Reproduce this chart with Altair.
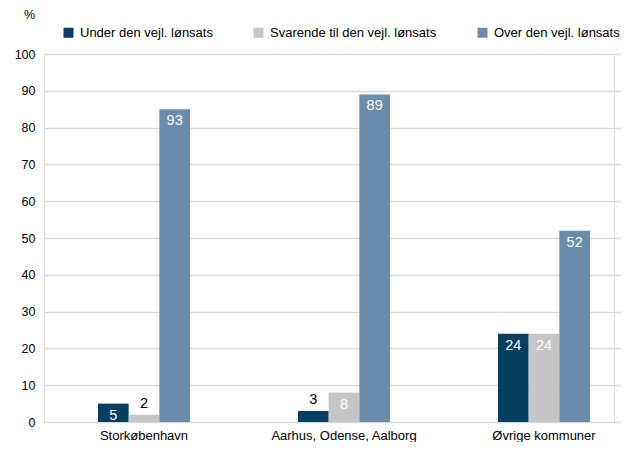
import altair as alt
import pandas as pd

categories = ["Storkøbenhavn", "Aarhus, Odense, Aalborg", "Øvrige kommuner"]
series = ["Under den vejl. lønsats", "Svarende til den vejl. lønsats", "Over den vejl. lønsats"]
colors = ["#063f5f", "#c6c6c6", "#6b8dab"]
# bar heights as drawn, and the value labels printed on them
under_vals = [5, 3, 24]
svarende_vals = [2, 8, 24]
over_vals = [85, 89, 52]
under_lbl = [5, 3, 24]
svarende_lbl = [2, 8, 24]
over_lbl = [93, 89, 52]
y_ticks = [0, 10, 20, 30, 40, 50, 60, 70, 80, 90, 100]

rows = []
for s, vals, lbls in zip(series, [under_vals, svarende_vals, over_vals], [under_lbl, svarende_lbl, over_lbl]):
    for c, v, l in zip(categories, vals, lbls):
        rows.append({"kategori": c, "serie": s, "værdi": v, "label": str(l),
                     "inside": v >= 4})
df = pd.DataFrame(rows)

FONT = "Liberation Sans"

x_enc = alt.X("kategori:N", sort=categories, title=None,
              scale=alt.Scale(range=[0, 600], paddingInner=0.54, paddingOuter=0.27),
              axis=alt.Axis(labelAngle=0, labelFont=FONT, labelFontSize=13, labelColor="#000000",
                            ticks=False, domain=False, labelPadding=7))
xoff = alt.XOffset("serie:N", sort=series, scale=alt.Scale(paddingInner=0, paddingOuter=0))
y_enc = alt.Y("værdi:Q", title=None,
              scale=alt.Scale(domain=[0, 100], nice=False),
              axis=alt.Axis(values=y_ticks, labelFont=FONT, labelFontSize=12.5, labelColor="#000000",
                            ticks=False, domain=False, labelPadding=9, labelOverlap=False,
                            gridColor="#d9d9d9", gridWidth=1.5))

base = alt.Chart(df)

bars = base.mark_bar().encode(
    x=x_enc, xOffset=xoff, y=y_enc,
    color=alt.Color("serie:N", sort=series,
                    scale=alt.Scale(domain=series, range=colors),
                    legend=alt.Legend(title=None, orient="none", direction="horizontal",
                                      legendX=18, legendY=-28, symbolType="square",
                                      symbolSize=100, symbolStrokeWidth=0, labelFont=FONT,
                                      labelFontSize=13, labelColor="#000000", labelLimit=400,
                                      columnPadding=39, labelOffset=5)),
)

inside = base.transform_filter("datum.inside").mark_text(
    baseline="top", dy=5, font=FONT, fontSize=14.5, color="#ffffff"
).encode(x=x_enc, xOffset=xoff, y=y_enc, text="label:N")

outside = base.transform_filter("!datum.inside").mark_text(
    baseline="bottom", dy=-4, font=FONT, fontSize=14.5, color="#000000"
).encode(x=x_enc, xOffset=xoff, y=y_enc, text="label:N")

pct = alt.Chart(pd.DataFrame({"t": ["%"]})).mark_text(
    font=FONT, fontSize=12.5, color="#000000", align="left", baseline="middle"
).encode(x=alt.value(-20), y=alt.value(-39), text="t:N")

chart = alt.layer(bars, inside, outside, pct).properties(
    width=570, height=368,
    autosize=alt.AutoSizeParams(type="none"),
    padding={"left": 36, "top": 46, "right": 7, "bottom": 20},
).configure_view(stroke=None).configure(background="#ffffff")

chart.save("out.html", embed_options={"renderer": "svg", "actions": False})
